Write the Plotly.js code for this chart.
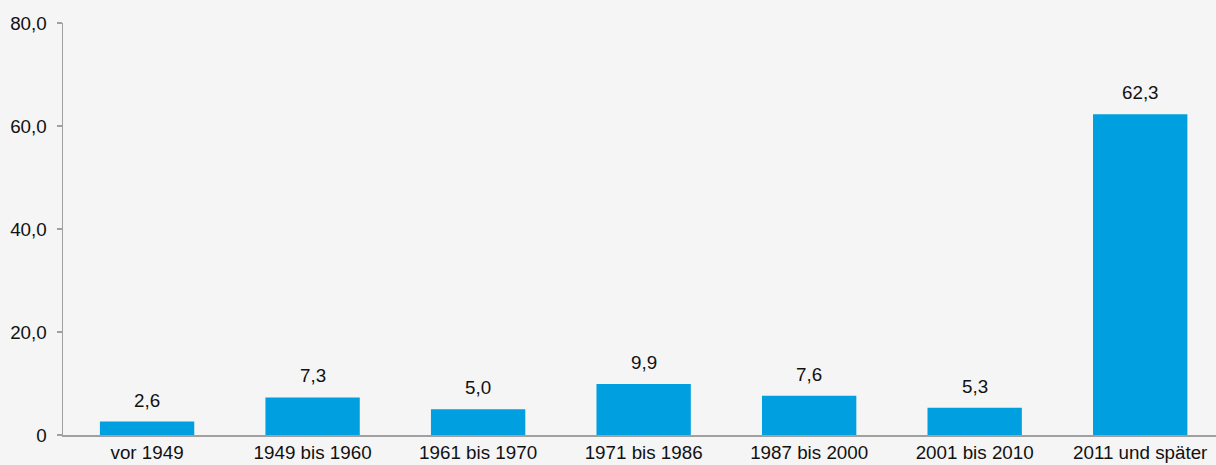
<!DOCTYPE html>
<html><head><meta charset="utf-8">
<script src="https://cdn.plot.ly/plotly-3.0.1.min.js"></script>
<style>html,body{margin:0;padding:0;background:#f5f5f5;}</style>
</head><body><div id="chart" style="width:1216px;height:465px;"></div>
<script>
const categories = ["vor 1949","1949 bis 1960","1961 bis 1970","1971 bis 1986","1987 bis 2000","2001 bis 2010","2011 und später"];
const values = [2.6, 7.3, 5.0, 9.9, 7.6, 5.3, 62.3];
const yTickVals = [0, 20, 40, 60, 80];
const yTickText = ["0", "20,0", "40,0", "60,0", "80,0"];

const fmt = v => v.toFixed(1).replace('.', ',');
const font = {family: 'Liberation Sans, Arial, sans-serif', size: 18.8, color: '#111111'};

const trace = {
  type: 'bar', x: categories, y: values,
  marker: {color: '#009fdf'},
  hoverinfo: 'none'
};
const annotations = categories.map((c, i) => ({
  x: c, y: values[i], text: fmt(values[i]), showarrow: false,
  xref: 'x', yref: 'y', yanchor: 'bottom', yshift: 9, font: font
}));
const layout = {
  width: 1216, height: 465,
  margin: {l: 63, r: 0, t: 23, b: 30},
  paper_bgcolor: '#f5f5f5', plot_bgcolor: '#f5f5f5',
  bargap: 0.43,
  showlegend: false,
  font: font,
  xaxis: {type: 'category', range: [-0.508, 6.458], showline: true, linecolor: '#a0a0a0', linewidth: 1.5,
    ticks: '', showgrid: false, zeroline: false, tickfont: font, ticklabelstandoff: 0, fixedrange: true},
  yaxis: {range: [0, 80], tickvals: yTickVals, ticktext: yTickText, showline: true, linecolor: '#a0a0a0',
    linewidth: 1.5, ticks: 'outside', ticklen: 5, tickcolor: '#a0a0a0', tickwidth: 1.5,
    showgrid: false, zeroline: false, tickfont: font, ticklabelstandoff: 6, fixedrange: true},
  annotations: annotations
};
Plotly.newPlot('chart', [trace], layout, {displayModeBar: false, staticPlot: true});
</script></body></html>
